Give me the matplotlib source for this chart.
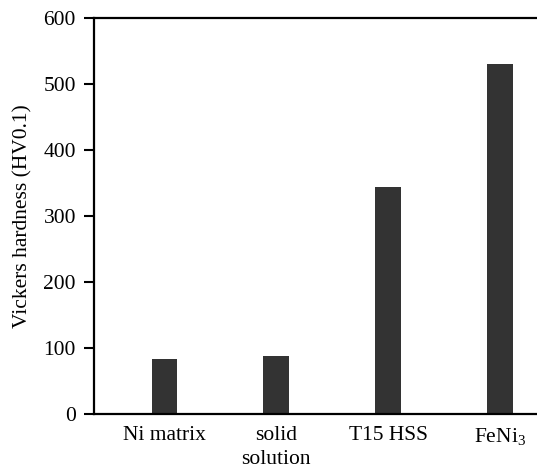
import matplotlib
matplotlib.use('Agg')
import matplotlib.pyplot as plt

categories = ['Ni matrix', 'solid\nsolution', 'T15 HSS', 'FeNi$_3$']
hardness = [83, 88, 344, 530]
yticks = [0, 100, 200, 300, 400, 500, 600]

plt.rcParams['font.family'] = 'Liberation Serif'
plt.rcParams['mathtext.fontset'] = 'custom'
plt.rcParams['mathtext.rm'] = 'Liberation Serif'

fig = plt.figure(figsize=(5.37, 4.68), dpi=100)
ax = fig.add_axes([94/537, 54/468, 1 - 94/537 + 0.01, (414-18)/468])

x = range(len(categories))
ax.bar(x, hardness, width=0.23, color='#333333')

ax.set_xlim(-0.63, 3.38)
ax.set_ylim(0, 600)
ax.set_yticks(yticks)
ax.set_xticks(list(x))
ax.set_xticklabels(categories, fontsize=15.5, linespacing=1.3)
ax.tick_params(axis='y', labelsize=15.5, direction='out', length=7, width=1.5, pad=6)
ax.tick_params(axis='x', length=0, pad=9)
ax.set_ylabel('Vickers hardness (HV0.1)', fontsize=15.5, labelpad=8)

for s in ['left', 'bottom', 'top']:
    ax.spines[s].set_linewidth(1.6)
ax.spines['right'].set_visible(False)

fig.savefig('out.png', dpi=100)
